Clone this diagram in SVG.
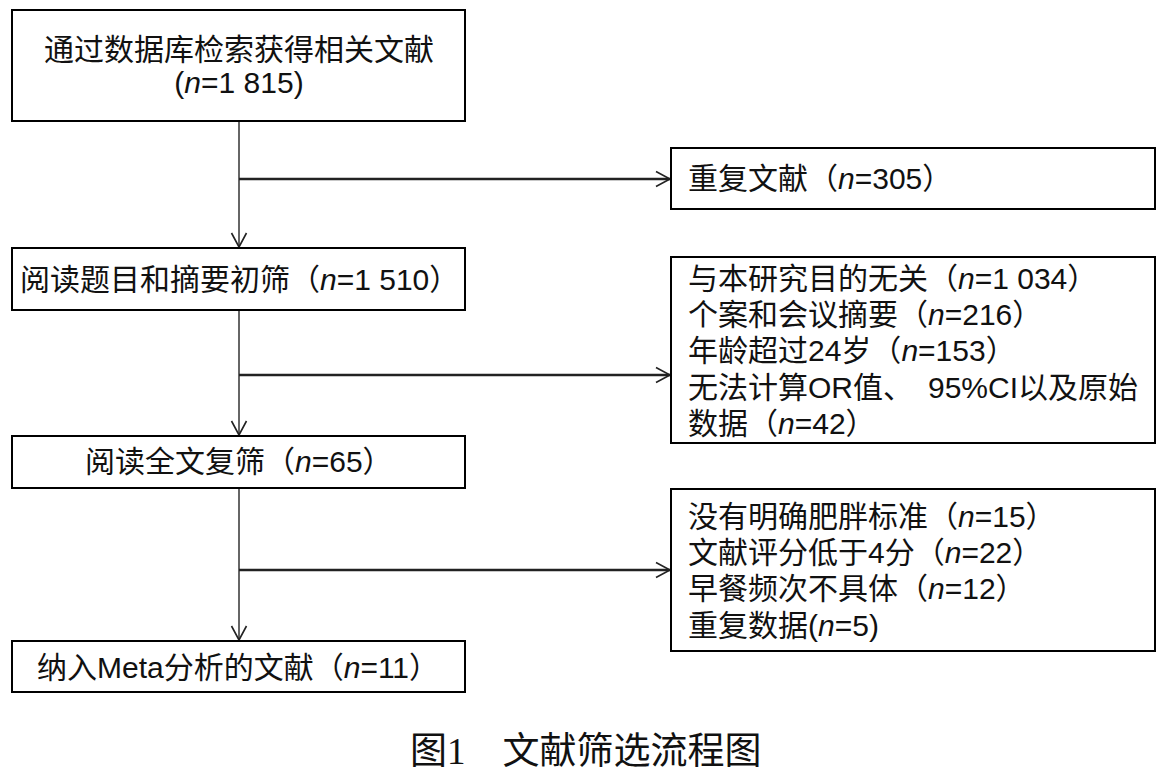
<svg xmlns="http://www.w3.org/2000/svg" width="1173" height="775" viewBox="0 0 1173 775">
  <style>
    .box { fill: #ffffff; stroke: #000000; stroke-width: 2; }
    .t { font-family: "Liberation Sans", "Noto Sans CJK SC", sans-serif; font-size: 30px; fill: #111111; }
    .cap { font-family: "Liberation Serif", "Noto Sans CJK SC", serif; font-size: 37px; fill: #111111; }
    .v { stroke: #333333; stroke-width: 1.5; fill: none; }
    .h { stroke: #222222; stroke-width: 2.5; fill: none; }
    .ah { stroke: #222222; stroke-width: 1.6; fill: none; }
  </style>
  <defs>
    <marker id="arr" markerUnits="userSpaceOnUse" markerWidth="20" markerHeight="20" viewBox="-16 -10 18 20" refX="0" refY="0" orient="auto">
      <path class="ah" d="M -14 -7.5 L 0 0 L -14 7.5"/>
    </marker>
  </defs>
  <rect width="1173" height="775" fill="#ffffff"/>

  <g id="connectors">
    <line class="v" x1="239" y1="121" x2="239" y2="247" marker-end="url(#arr)"/>
    <line class="v" x1="239" y1="310" x2="239" y2="435" marker-end="url(#arr)"/>
    <line class="v" x1="239" y1="488" x2="239" y2="640" marker-end="url(#arr)"/>
    <line class="h" x1="239" y1="179" x2="670" y2="179" marker-end="url(#arr)"/>
    <line class="h" x1="239" y1="375" x2="670" y2="375" marker-end="url(#arr)"/>
    <line class="h" x1="239" y1="570" x2="670" y2="570" marker-end="url(#arr)"/>
  </g>

  <g id="n1">
    <rect class="box" x="12" y="10" width="453" height="111"/>
    <text class="t" x="239" y="60" text-anchor="middle">通过数据库检索获得相关文献</text>
    <text class="t" x="239" y="93" text-anchor="middle">(<tspan font-style="italic">n</tspan>=1 815)</text>
  </g>

  <g id="n2">
    <rect class="box" x="12" y="248" width="453" height="62"/>
    <text class="t" x="20" y="290">阅读题目和摘要初筛（<tspan font-style="italic">n</tspan>=1 510）</text>
  </g>

  <g id="n3">
    <rect class="box" x="12" y="436" width="453" height="52"/>
    <text class="t" x="85" y="472">阅读全文复筛（<tspan font-style="italic">n</tspan>=65）</text>
  </g>

  <g id="n4">
    <rect class="box" x="12" y="641" width="453" height="51"/>
    <text class="t" x="37" y="678">纳入Meta分析的文献（<tspan font-style="italic">n</tspan>=11）</text>
  </g>

  <g id="e1">
    <rect class="box" x="671" y="148" width="484" height="61"/>
    <text class="t" x="688" y="189">重复文献（<tspan font-style="italic">n</tspan>=305）</text>
  </g>

  <g id="e2">
    <rect class="box" x="671" y="257" width="484" height="186"/>
    <text class="t" x="688" y="289">与本研究目的无关（<tspan font-style="italic">n</tspan>=1 034）</text>
    <text class="t" x="688" y="325">个案和会议摘要（<tspan font-style="italic">n</tspan>=216）</text>
    <text class="t" x="688" y="361">年龄超过24岁（<tspan font-style="italic">n</tspan>=153）</text>
    <text class="t" x="688" y="398">无法计算OR值、<tspan dx="15">95%CI以及原始</tspan></text>
    <text class="t" x="688" y="434">数据（<tspan font-style="italic">n</tspan>=42）</text>
  </g>

  <g id="e3">
    <rect class="box" x="671" y="489" width="484" height="162"/>
    <text class="t" x="688" y="527">没有明确肥胖标准（<tspan font-style="italic">n</tspan>=15）</text>
    <text class="t" x="688" y="563">文献评分低于4分（<tspan font-style="italic">n</tspan>=22）</text>
    <text class="t" x="688" y="599">早餐频次不具体（<tspan font-style="italic">n</tspan>=12）</text>
    <text class="t" x="688" y="636">重复数据(<tspan font-style="italic">n</tspan>=5)</text>
  </g>

  <g id="caption">
    <text class="cap" x="410" y="764">图1　文献筛选流程图</text>
  </g>
</svg>
